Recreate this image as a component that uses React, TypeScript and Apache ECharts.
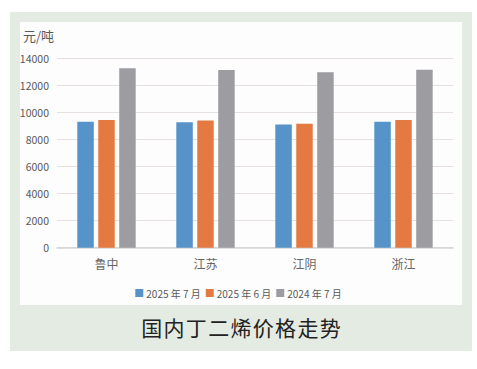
import React, { useEffect, useRef } from "react";
import * as echarts from "echarts";

const categories = ["鲁中", "江苏", "江阴", "浙江"];
const seriesNames = ["2025 年 7 月", "2025 年 6 月", "2024 年 7 月"];
const jul2025 = [9300, 9250, 9100, 9300];
const jun2025 = [9420, 9380, 9150, 9420];
const jul2024 = [13250, 13120, 12950, 13140];
const yTicks = { min: 0, max: 14000, interval: 2000 };
const unitLabel = "元/吨";
const titleText = "国\u200a内\u200a丁\u200a二\u200a烯\u200a价\u200a格\u200a走\u200a势";

const colors = ["#5593c9", "#e47a42", "#9d9da1"];
const FONT = "'Noto Sans CJK SC', 'Noto Sans', sans-serif";

export default function App() {
  const ref = useRef<HTMLDivElement>(null);
  useEffect(() => {
    if (!ref.current) return;
    const chart = echarts.init(ref.current, undefined, { renderer: "svg" });
    const values = [jul2025, jun2025, jul2024];
    chart.setOption({
      animation: false,
      backgroundColor: "#ffffff",
      textStyle: { fontFamily: FONT },
      graphic: [
        { type: "rect", shape: { x: 10, y: 12, width: 462, height: 339 }, style: { fill: "#e4ebe3" }, z: -10 },
        { type: "rect", shape: { x: 20, y: 22, width: 442, height: 283 }, style: { fill: "#fdfdfd" }, z: -9 },
        {
          type: "text",
          x: 241,
          y: 327,
          style: { text: titleText, fontSize: 21, fill: "#222222", align: "center", verticalAlign: "middle", fontFamily: FONT },
          z: 10,
        },
        {
          type: "text",
          x: 23,
          y: 35,
          style: { text: unitLabel, fontSize: 13, fill: "#595959", align: "left", verticalAlign: "middle", fontFamily: FONT },
          z: 10,
        },
      ],
      legend: {
        data: seriesNames,
        bottom: 66,
        left: "center",
        itemWidth: 8,
        itemHeight: 8,
        itemGap: 5,
        icon: "rect",
        textStyle: { fontSize: 10, color: "#595959", fontFamily: FONT, padding: [0, 0, 0, -2] },
      },
      grid: { left: 57, right: 24, top: 58, bottom: 121.3, containLabel: false },
      xAxis: {
        type: "category",
        data: categories,
        axisTick: { show: false },
        axisLine: { lineStyle: { color: "#d4d4d4", width: 1.5 } },
        axisLabel: { fontSize: 12, color: "#666666", margin: 10 },
      },
      yAxis: {
        type: "value",
        min: yTicks.min,
        max: yTicks.max,
        interval: yTicks.interval,
        axisLine: { show: false },
        axisTick: { show: false },
        axisLabel: { fontSize: 10.5, color: "#595959", margin: 8, formatter: (v: number) => String(v) },
        splitLine: { lineStyle: { color: "#e6e0e0", width: 1.2 } },
      },
      series: seriesNames.map((name, i) => ({
        name,
        type: "bar",
        data: values[i],
        barWidth: 16.5,
        barGap: "27%",
        itemStyle: { color: colors[i] },
      })),
    });
    return () => chart.dispose();
  }, []);
  return <div ref={ref} style={{ position: "fixed", left: 0, top: 0, width: 477, height: 369 }} />;
}
